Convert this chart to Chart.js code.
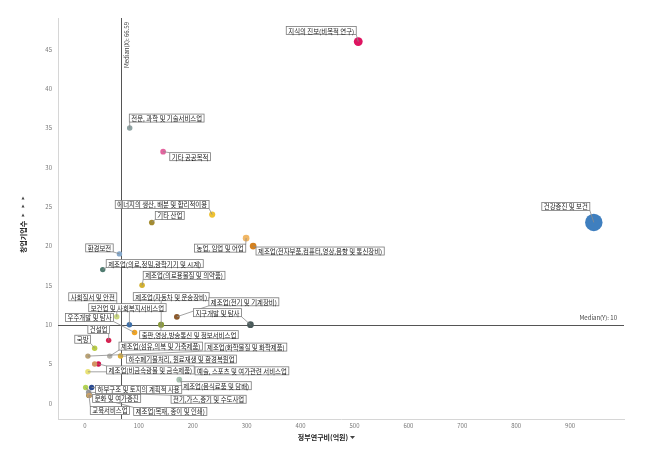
<!DOCTYPE html>
<html>
<head>
<meta charset="utf-8">
<script src="https://cdn.jsdelivr.net/npm/chart.js@4.4.1/dist/chart.umd.min.js"></script>
<style>
  html, body { margin: 0; padding: 0; background: #fff; }
  #wrap { width: 650px; height: 449px; position: relative; }
</style>
</head>
<body>
<div id="wrap"><canvas id="chart" width="650" height="449"></canvas></div>
<script>
// 분야별 정부연구비(억원) / 창업기업수
const names = [
    "지식의 진보(비목적 연구)",
    "건강증진 및 보건",
    "전문, 과학 및 기술서비스업",
    "기타 공공목적",
    "에너지의 생산, 배분 및 합리적이용",
    "기타 산업",
    "환경보전",
    "제조업(의료,정밀,광학기기 및 시계)",
    "제조업(의료용물질 및 의약품)",
    "농업, 임업 및 어업",
    "제조업(전자부품,컴퓨터,영상,음향 및 통신장비)",
    "사회질서 및 안전",
    "보건업 및 사회복지서비스업",
    "제조업(자동차 및 운송장비)",
    "제조업(전기 및 기계장비)",
    "지구개발 및 탐사",
    "우주개발 및 탐사",
    "건설업",
    "국방",
    "출판,영상,방송통신 및 정보서비스업",
    "제조업(섬유,의복 및 가죽제품)",
    "제조업(화학물질 및 화학제품)",
    "하수폐기물처리, 원료재생 및 환경복원업",
    "제조업(비금속광물 및 금속제품)",
    "예술, 스포츠 및 여가관련 서비스업",
    "제조업(음식료품 및 담배)",
    "하부구조 및 토지의 계획적 사용",
    "문화 및 여가증진",
    "교육서비스업",
    "전기,가스,증기 및 수도사업",
    "제조업(목재, 종이 및 인쇄)",
    "기타"
]
const govFunding = [507, 944, 83, 145, 236, 124, 64, 33, 106, 299, 312, 59, 82.5, 141.5, 170.5, 307, 92, 44, 18, 141, 46, 5.5, 66, 25, 5.5, 175, 12.4, 1.3, 7.4, 6.8, 8, 18]
const startups = [46, 23, 35, 32, 24, 23, 19, 17, 15, 21, 20, 11, 10, 10, 11, 10, 9, 8, 7, 10, 6, 6, 6, 5, 4, 3, 2, 2, 1, 1.4, 1, 5]
const xTicks = [0, 100, 200, 300, 400, 500, 600, 700, 800, 900]
const yTicks = [0, 5, 10, 15, 20, 25, 30, 35, 40, 45]
const medianX = 66.59
const medianY = 10

const colors = [
    "#de1461", "#3f7fbf", "#8fa3a3", "#e3649f", "#efc232", "#a38b2e", "#86a9cc", "#4f7b70",
    "#d3b12f", "#f1b765", "#d4811f", "#cbd981", "#3e6fa8", "#8b9b3c", "#8c5a2c", "#4b5b5b",
    "#f0a526", "#d6204f", "#b9cd44", "#8b9b3c", "#b4b2aa", "#b9a276", "#e2b233", "#d3114c",
    "#e9e276", "#a9c2b3", "#2b4b92", "#b3d355", "#6b6b22", "#9a9a9a", "#c9a06a", "#d49462"
]
// label box centre relative to its point, px
const labelOffsets = [
    [-37, -11], [-28, -16], [37, -10], [27, 5], [-50, -10], [18, -7], [-20, -6], [52, -6],
    [42, -10], [-26, 10], [67, 5], [-24, -20], [-2, -17], [10, -28], [67, -15], [-33, -12],
    [-45, -15], [-10, -11], [-12, -9], [28, 10], [51, -10], [158, -9], [61, 3], [52, 6],
    [154, -1], [37, 6], [47, 2], [31, 11], [21, 15], [120, 7], [81, 16], null
]

const points = govFunding.map((x, i) => ({ x: x, y: startups[i] }))

const FONT = "'Noto Sans CJK KR', 'Noto Sans', sans-serif"

const labelPlugin = {
    id: "pointLabels",
    afterDatasetsDraw(chart) {
        const ctx = chart.ctx
        const meta = chart.getDatasetMeta(0)
        ctx.save()
        ctx.font = "6.4px " + FONT
        ctx.textBaseline = "middle"
        ctx.textAlign = "center"
        meta.data.forEach((el, i) => {
            const off = labelOffsets[i]
            if (!off) return
            const cx = el.x + off[0]
            const cy = el.y + off[1]
            const w = ctx.measureText(names[i]).width + 4
            const h = 8
            const l = cx - w / 2, t = cy - h / 2
            const nx = Math.max(l, Math.min(el.x, l + w))
            const ny = Math.max(t, Math.min(el.y, t + h))
            ctx.strokeStyle = "#8c8c8c"
            ctx.lineWidth = 0.8
            ctx.beginPath()
            ctx.moveTo(el.x, el.y)
            ctx.lineTo(nx, ny)
            ctx.stroke()
        })
        meta.data.forEach((el, i) => {
            const off = labelOffsets[i]
            if (!off) return
            const cx = el.x + off[0]
            const cy = el.y + off[1]
            const w = ctx.measureText(names[i]).width + 4
            const h = 8
            ctx.fillStyle = "#fff"
            ctx.fillRect(cx - w / 2, cy - h / 2, w, h)
            ctx.strokeStyle = "#7a7a7a"
            ctx.lineWidth = 0.8
            ctx.strokeRect(cx - w / 2, cy - h / 2, w, h)
            ctx.fillStyle = "#1a1a1a"
            ctx.fillText(names[i], cx, cy + 0.5)
        })
        ctx.restore()
    }
}

const medianPlugin = {
    id: "medians",
    beforeDatasetsDraw(chart) {
        const { ctx, chartArea: a, scales } = chart
        const px = scales.x.getPixelForValue(medianX)
        const py = scales.y.getPixelForValue(medianY)
        ctx.save()
        ctx.strokeStyle = "#555"
        ctx.lineWidth = 1
        ctx.beginPath()
        ctx.moveTo(Math.round(px) + 0.5, a.top)
        ctx.lineTo(Math.round(px) + 0.5, a.bottom)
        ctx.moveTo(a.left, Math.round(py) + 0.5)
        ctx.lineTo(a.right, Math.round(py) + 0.5)
        ctx.stroke()
        ctx.fillStyle = "#444"
        ctx.font = "6px " + FONT
        ctx.textAlign = "right"
        ctx.textBaseline = "bottom"
        ctx.fillText("Median(Y): " + medianY, a.right - 7, py - 4)
        ctx.translate(px + 6, a.top + 4)
        ctx.rotate(-Math.PI / 2)
        ctx.textAlign = "right"
        ctx.textBaseline = "middle"
        ctx.fillText("Median(X): " + medianX, 0, 0)
        ctx.restore()
    },
    afterDraw(chart) {
        const { ctx, chartArea: a } = chart
        ctx.save()
        ctx.fillStyle = "#222"
        ctx.font = "bold 7px " + FONT
        ctx.textAlign = "center"
        ctx.textBaseline = "middle"
        ctx.fillText("정부연구비(억원)", 323, 437)
        ctx.fillStyle = "#444"
        ctx.beginPath()
        ctx.moveTo(350, 436); ctx.lineTo(355, 436); ctx.lineTo(352.5, 439); ctx.fill()
        ctx.translate(23, 237)
        ctx.rotate(-Math.PI / 2)
        ctx.fillStyle = "#222"
        ctx.fillText("창업기업수", 0, 0)
        ctx.fillStyle = "#444"
        ;[22, 31, 39].forEach(d => {
            ctx.beginPath()
            ctx.moveTo(d - 1.5, -1.5); ctx.lineTo(d - 1.5, 1.5); ctx.lineTo(d + 1.5, 0); ctx.fill()
        })
        ctx.restore()
    }
}

new Chart(document.getElementById("chart"), {
    type: "scatter",
    data: {
        datasets: [{
            data: points,
            backgroundColor: colors,
            borderColor: colors,
            borderWidth: 0,
            pointRadius: ctx => {
                const v = ctx.raw ? ctx.raw.x : 0
                return 2.7 + 6 * Math.pow(v / 944, 2)
            },
            pointHoverRadius: 4
        }]
    },
    options: {
        responsive: false,
        animation: false,
        layout: { padding: { top: 18, right: 26, left: 0, bottom: 0 } },
        plugins: { legend: { display: false }, tooltip: { enabled: false } },
        scales: {
            x: {
                type: "linear",
                min: -50,
                max: 1000,
                grid: { display: false, drawTicks: false },
                border: { display: true, color: "#d6d6d6" },
                afterBuildTicks: s => { s.ticks = xTicks.map(v => ({ value: v })) },
                afterFit: s => { s.height = 30 },
                ticks: { color: "#777", font: { size: 6, family: FONT }, padding: 3, maxRotation: 0 }
            },
            y: {
                type: "linear",
                min: -2,
                max: 49,
                grid: { display: false, drawTicks: false },
                border: { display: true, color: "#d6d6d6" },
                afterBuildTicks: s => { s.ticks = yTicks.map(v => ({ value: v })) },
                afterFit: s => { s.width = 58 },
                ticks: { color: "#777", font: { size: 6, family: FONT }, padding: 6 }
            }
        }
    },
    plugins: [medianPlugin, labelPlugin]
})
</script>
</body>
</html>
